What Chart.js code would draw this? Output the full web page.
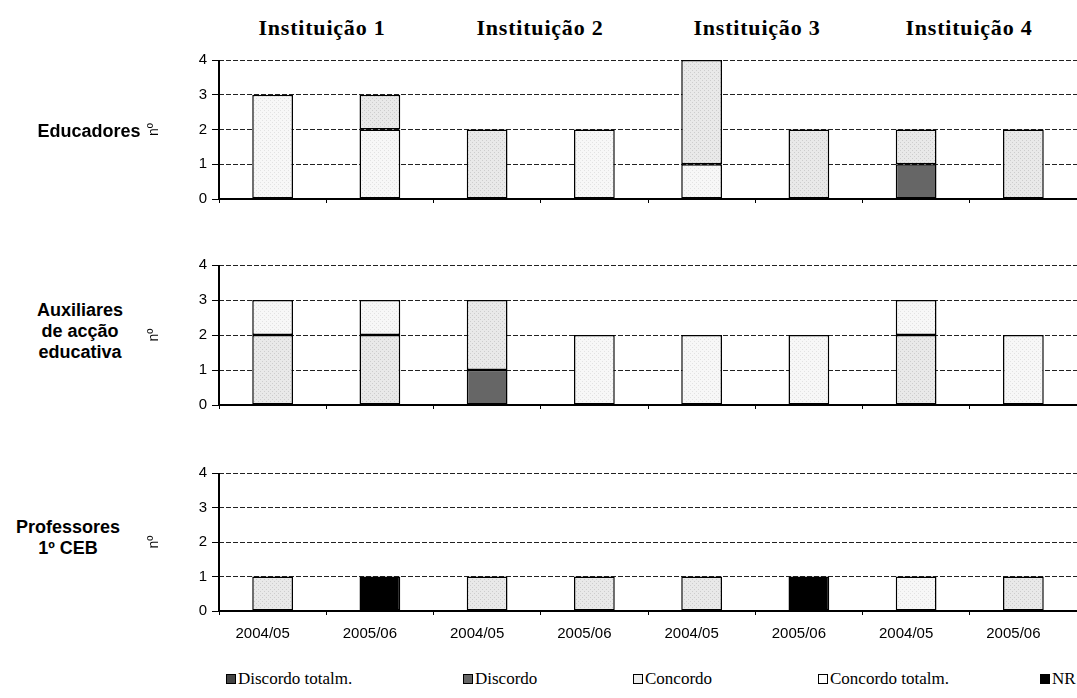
<!DOCTYPE html>
<html>
<head>
<meta charset="utf-8">
<script src="https://cdn.jsdelivr.net/npm/chart.js@4.4.0/dist/chart.umd.min.js"></script>
<style>
  body { margin: 0; width: 1077px; height: 698px; position: relative; background: #fff; overflow: hidden; }
  canvas.panel { position: absolute; left: 140px; }
  .inst { position: absolute; top: 15px; font: bold 22px "Liberation Serif", "Times New Roman", serif; letter-spacing: 0.8px; transform: translateX(-50%); white-space: nowrap; color: #000; }
  .row { position: absolute; font: bold 18px "Liberation Sans", Arial, sans-serif; text-align: center; line-height: 21px; transform: translate(-50%, -50%); white-space: nowrap; color: #000; }
  .leg { position: absolute; top: 669px; font: 17px "Liberation Serif", "Times New Roman", serif; white-space: nowrap; color: #000; }
  .leg i { display: inline-block; width: 10px; height: 10px; box-sizing: border-box; border: 1px solid #000; margin-right: 2px; vertical-align: 0px; }
</style>
</head>
<body>
<canvas id="c0" class="panel" width="937" height="170" style="top:46px"></canvas>
<canvas id="c1" class="panel" width="937" height="171" style="top:251px"></canvas>
<canvas id="c2" class="panel" width="937" height="200" style="top:459px"></canvas>

<script>
// categories and labels
const categories = ['2004/05', '2005/06', '2004/05', '2005/06', '2004/05', '2005/06', '2004/05', '2005/06'];
const institutions = ['Instituição 1', 'Instituição 2', 'Instituição 3', 'Instituição 4'];
const seriesNames = ['Discordo totalm.', 'Discordo', 'Concordo', 'Concordo totalm.', 'NR'];
const groupNames = [['Educadores'], ['Auxiliares', 'de acção', 'educativa'], ['Professores', '1º CEB']];
const yTicks = [0, 1, 2, 3, 4];

// Educadores
const eduDiscTot  = [0, 0, 0, 0, 0, 0, 0, 0];
const eduDisc     = [0, 0, 0, 0, 0, 0, 1, 0];
const eduConc     = [3, 2, 0, 2, 1, 0, 0, 0];
const eduConcTot  = [0, 1, 2, 0, 3, 2, 1, 2];
const eduNR       = [0, 0, 0, 0, 0, 0, 0, 0];

// Auxiliares de acção educativa
const auxDiscTot  = [0, 0, 0, 0, 0, 0, 0, 0];
const auxDisc     = [0, 0, 1, 0, 0, 0, 0, 0];
const auxConc     = [2, 2, 2, 0, 0, 0, 2, 0];
const auxConcTot  = [1, 1, 0, 2, 2, 2, 1, 2];
const auxNR       = [0, 0, 0, 0, 0, 0, 0, 0];

// Professores 1º CEB
const profDiscTot = [0, 0, 0, 0, 0, 0, 0, 0];
const profDisc    = [0, 0, 0, 0, 0, 0, 0, 0];
const profConc    = [1, 0, 1, 1, 1, 0, 0, 1];
const profConcTot = [0, 0, 0, 0, 0, 0, 1, 0];
const profNR      = [0, 1, 0, 0, 0, 1, 0, 0];

//dotted fills like the excel patterns
function pattern(bg, dot) {
    const c = document.createElement('canvas');
    c.width = 4; c.height = 4;
    const x = c.getContext('2d');
    x.fillStyle = bg;
    x.fillRect(0, 0, 4, 4);
    x.fillStyle = dot;
    x.fillRect(0, 0, 1, 1);
    x.fillRect(2, 2, 1, 1);
    return x.createPattern(c, 'repeat');
}
const darkDots = pattern('#3c3c3c', '#707070');
const lightA = pattern('#e9e9e9', '#cdcdcd');   // denser light
const lightB = pattern('#f7f7f7', '#e2e2e2');   // very light

const panels = [
    { id: 'c0', data: [eduDiscTot, eduDisc, eduConc, eduConcTot, eduNR], fills: [darkDots, '#666666', lightB, lightA, '#000'], labels: false, xh: 17 },
    { id: 'c1', data: [auxDiscTot, auxDisc, auxConc, auxConcTot, auxNR], fills: [darkDots, '#666666', lightA, lightB, '#000'], labels: false, xh: 17 },
    { id: 'c2', data: [profDiscTot, profDisc, profConc, profConcTot, profNR], fills: [darkDots, '#666666', lightA, lightB, '#000'], labels: true, xh: 48 }
];

const sans = 'Liberation Sans, Arial, sans-serif';

// solid axis lines (border.dash is used for the dashed grid)
const axisLines = {
    id: 'axisLines',
    afterDraw(chart) {
        const a = chart.chartArea;
        const c = chart.ctx;
        c.save();
        c.strokeStyle = '#000';
        c.lineWidth = 2;
        c.setLineDash([]);
        c.beginPath();
        c.moveTo(a.left, a.top);
        c.lineTo(a.left, a.bottom);
        c.lineTo(a.right, a.bottom);
        c.stroke();
        c.restore();
    }
};

panels.forEach(p => {
    const ctx = document.getElementById(p.id).getContext('2d');
    new Chart(ctx, {
        type: 'bar',
        data: {
            labels: categories,
            datasets: p.data.map((arr, i) => ({
                label: seriesNames[i],
                data: arr.map(v => v || null),
                backgroundColor: p.fills[i],
                borderColor: '#000',
                borderWidth: 1.5,
                borderSkipped: false,
                barPercentage: 0.38,
                categoryPercentage: 1
            }))
        },
        plugins: [axisLines],
        options: {
            responsive: false,
            animation: false,
            layout: { padding: { top: 10, right: 0, left: 0, bottom: 0 } },
            plugins: { legend: { display: false }, tooltip: { enabled: false } },
            scales: {
                x: {
                    stacked: true,
                    afterFit: s => { s.height = p.xh; },
                    ticks: { display: p.labels, color: '#000', padding: 10, labelOffset: -10, maxRotation: 0, font: { family: sans, size: 15 } },
                    grid: { drawOnChartArea: false, drawTicks: true, tickLength: 4, color: '#000', offset: true },
                    border: { display: false }
                },
                y: {
                    stacked: true,
                    min: yTicks[0],
                    max: yTicks[yTicks.length - 1],
                    afterFit: s => { s.width = 79; },
                    afterBuildTicks: s => { s.ticks = yTicks.map(v => ({ value: v })); },
                    ticks: { color: '#000', padding: 5, font: { family: sans, size: 15 } },
                    title: { display: true, text: 'nº', color: '#000', padding: { top: 6, bottom: 0 }, font: { family: sans, size: 14 } },
                    grid: { color: '#222', lineWidth: 1, tickLength: 7, tickColor: '#000', tickBorderDash: [] },
                    border: { display: false, dash: [5, 2] }
                }
            }
        }
    });
});

// column titles over each pair of bars
const instX = [322, 540, 757, 969];
institutions.forEach((t, i) => {
    const d = document.createElement('div');
    d.className = 'inst';
    d.style.left = instX[i] + 'px';
    d.textContent = t;
    document.body.appendChild(d);
});

// row labels
const rowPos = [[89, 131], [80, 331], [68, 538]];
groupNames.forEach((lines, i) => {
    const d = document.createElement('div');
    d.className = 'row';
    d.style.left = rowPos[i][0] + 'px';
    d.style.top = rowPos[i][1] + 'px';
    d.innerHTML = lines.join('<br>');
    document.body.appendChild(d);
});

// legend
const legX = [226, 463, 633, 818, 1040];
const legBox = ['#444', '#666', '#eee', '#fff', '#000'];
seriesNames.forEach((n, i) => {
    const d = document.createElement('div');
    d.className = 'leg';
    d.style.left = legX[i] + 'px';
    d.innerHTML = '<i style="background:' + legBox[i] + '"></i>' + n;
    document.body.appendChild(d);
});
</script>
</body>
</html>
